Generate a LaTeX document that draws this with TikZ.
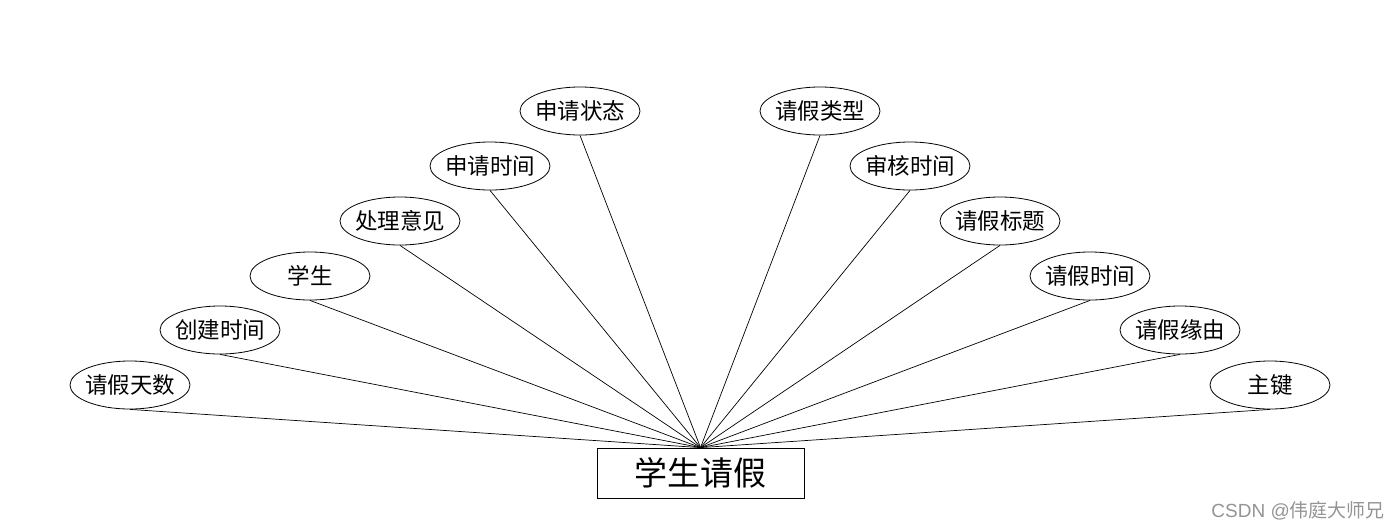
\documentclass[tikz,border=0pt]{standalone}
\usepackage{fontspec}
\usetikzlibrary{shapes.geometric}
\newfontfamily\cjk{Noto Sans CJK SC}
\newcommand{\zw}[1]{\makebox[0pt]{#1}}
\tikzset{
  attr/.style={draw, ellipse, line width=0.8pt, minimum width=120pt, minimum height=48pt, inner sep=0pt, font=\cjk\fontsize{22.5}{26}\selectfont},
  ent/.style={draw, rectangle, line width=0.8pt, minimum width=207pt, minimum height=50pt, inner sep=0pt, font=\cjk\fontsize{33}{38}\selectfont},
  link/.style={line width=0.7pt}
}
\begin{document}
\begin{tikzpicture}[x=1pt,y=-1pt]
\useasboundingbox (0,0) rectangle (1400,528);
\node[ent] (e) at (700.5,473) {学生请假};
\node[attr] (a1) at (130,385) {\zw{请假天数}};
\node[attr] (a2) at (220,330) {\zw{创建时间}};
\node[attr] (a3) at (310,276) {\zw{学生}};
\node[attr] (a4) at (400,221) {\zw{处理意见}};
\node[attr] (a5) at (490,166) {\zw{申请时间}};
\node[attr] (a6) at (580,111) {\zw{申请状态}};
\node[attr] (b1) at (820,111) {\zw{请假类型}};
\node[attr] (b2) at (910,166) {\zw{审核时间}};
\node[attr] (b3) at (1000,221) {\zw{请假标题}};
\node[attr] (b4) at (1090,276) {\zw{请假时间}};
\node[attr] (b5) at (1180,330) {\zw{请假缘由}};
\node[attr] (b6) at (1270,385) {\zw{主键}};
\foreach \n in {a1,a2,a3,a4,a5,a6,b1,b2,b3,b4,b5,b6}
  \draw[link] (\n.south) -- (e.north);
\node[anchor=base east, text=black!42, font=\fontspec{Liberation Sans}\fontsize{19}{22}\selectfont, inner sep=0pt] (wm) at (1385,517) {CSDN @{\cjk 伟庭大师兄}};
\end{tikzpicture}
\end{document}
